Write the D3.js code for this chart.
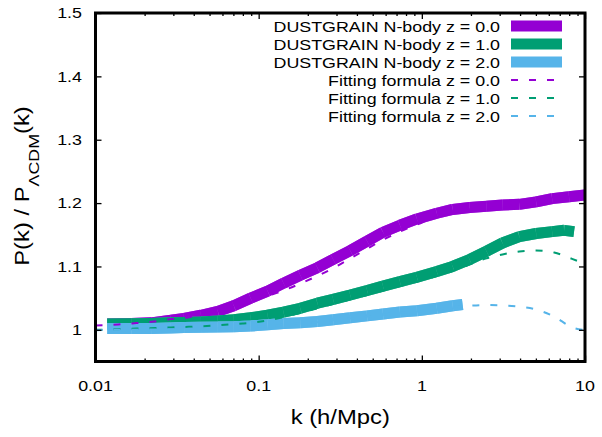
<!DOCTYPE html>
<html><head><meta charset="utf-8">
<script src="https://cdn.jsdelivr.net/npm/d3@7"></script>
<style>
body{margin:0;background:#fff}
svg{display:block}
text{font-family:"Liberation Sans",Arial,Helvetica,sans-serif;fill:#000}
</style>
</head><body>
<svg id="c" width="602" height="437"></svg>
<script>
// ---------- data ----------
const kZ0 = [0.0118,0.0166,0.0219,0.029,0.0349,0.0443,0.0562,0.0704,0.0893,0.1135,0.142,0.18,0.229,0.286,0.364,0.462,0.578,0.734,0.933,1.235,1.545,1.962,2.49,3.12,3.96,5.02,6.29,7.98,10];
const pZ0 = [1.009,1.010,1.011,1.015,1.018,1.023,1.029,1.038,1.050,1.061,1.0736,1.086,1.098,1.111,1.125,1.140,1.154,1.165,1.175,1.184,1.190,1.193,1.195,1.197,1.198,1.202,1.207,1.210,1.213];
const kZ1 = [0.0118,0.0166,0.0219,0.029,0.0349,0.0443,0.0562,0.0704,0.0893,0.1135,0.142,0.18,0.229,0.286,0.364,0.462,0.578,0.734,0.933,1.235,1.545,1.962,2.49,3.12,3.96,5.02,6.29,7.45,8.57];
const pZ1 = [1.009,1.0095,1.010,1.011,1.0115,1.0125,1.014,1.016,1.019,1.023,1.028,1.034,1.042,1.048,1.055,1.062,1.069,1.076,1.083,1.092,1.100,1.111,1.124,1.137,1.147,1.152,1.155,1.157,1.155];
const kZ2 = [0.0118,0.0166,0.0219,0.029,0.0349,0.0443,0.0562,0.0704,0.0893,0.1135,0.142,0.18,0.229,0.286,0.364,0.462,0.578,0.734,0.933,1.235,1.545,1.778];
const pZ2 = [1.002,1.002,1.002,1.003,1.0035,1.004,1.0045,1.005,1.006,1.008,1.010,1.011,1.013,1.016,1.019,1.022,1.025,1.028,1.030,1.034,1.038,1.040];

const kFit = [0.01,0.0138,0.0178,0.0229,0.0291,0.0374,0.0482,0.062,0.08,0.103,0.142,0.18,0.229,0.287,0.364,0.462,0.578,0.734,0.932,1.23,1.55,1.96,2.49,3.12,3.96,5.02,6.47,8.33,10];
const fitZ0 = [1.007,1.0084,1.0106,1.013,1.017,1.020,1.026,1.032,1.041,1.050,1.062,1.073,1.085,1.0975,1.1125,1.128,1.142,1.155,1.166,1.178,1.186,1.190,1.193,1.195,1.197,1.200,1.205,1.208,1.211];
const fitZ1 = [1.000,1.001,1.002,1.0027,1.0037,1.0047,1.006,1.008,1.010,1.013,1.020,1.027,1.034,1.041,1.048,1.055,1.062,1.069,1.076,1.085,1.093,1.103,1.113,1.119,1.1235,1.125,1.122,1.112,1.104];
const fitZ2 = [0.9995,1.000,1.000,1.0005,1.001,1.0015,1.002,1.003,1.004,1.005,1.008,1.010,1.012,1.015,1.018,1.021,1.024,1.027,1.029,1.032,1.036,1.038,1.039,1.0385,1.0365,1.032,1.021,1.004,0.9995];

const xTicks = [0.01,0.1,1,10];
const xTickLabels = ["0.01","0.1","1","10"];
const yTicks = [1,1.1,1.2,1.3,1.4,1.5];
const yTickLabels = ["1","1.1","1.2","1.3","1.4","1.5"];
const seriesColors = ["#9400d3","#009e73","#56b4e9"];
const nbodyLabels = ["DUSTGRAIN N-body z = 0.0","DUSTGRAIN N-body z = 1.0","DUSTGRAIN N-body z = 2.0"];
const fitLabels = ["Fitting formula z = 0.0","Fitting formula z = 1.0","Fitting formula z = 2.0"];

// ---------- drawing ----------
const svg = d3.select("#c");
const L = 95.5, R = 585, T = 13, B = 361.5;
const SX = 1.19;
const x = d3.scaleLog().domain([0.01,10]).range([L,R]);
const y = d3.scaleLinear().domain([0.95,1.5]).range([B,T]);

svg.append("defs").append("clipPath").attr("id","clip")
  .append("rect").attr("x",L).attr("y",T).attr("width",R-L).attr("height",B-T);

function txt(g, px, py, str, size, anchor, rot){
  return g.append("text")
    .attr("transform", `translate(${px},${py})` + (rot?` rotate(${rot})`:"") + ` scale(${SX},1)`)
    .attr("text-anchor", anchor).style("font-size", size+"px").text(str);
}

const plot = svg.append("g").attr("clip-path","url(#clip)");

// N-body bands: pale underlay path + separate segments on top
const nb = [[kZ0,pZ0],[kZ1,pZ1],[kZ2,pZ2]];
const plain = d3.line().x(d=>d[0]).y(d=>d[1]);
nb.forEach(([ks,ps],i)=>{
  const pts = ks.map((k,j)=>[x(k),y(ps[j])]);
  const g = plot.append("g");
  g.append("path").datum(pts).attr("d",plain).attr("fill","none")
    .attr("stroke",d3.interpolateRgb(seriesColors[i],"#fff")(0.3))
    .attr("stroke-width",11).attr("stroke-linejoin","bevel").attr("stroke-linecap","butt");
  g.selectAll("line").data(d3.pairs(pts)).join("line")
    .attr("x1",d=>d[0][0]).attr("y1",d=>d[0][1])
    .attr("x2",d=>d[1][0]).attr("y2",d=>d[1][1])
    .attr("stroke",seriesColors[i]).attr("stroke-width",11)
    .attr("stroke-linecap","butt");
});

// fitting formula dashed lines
const line = d3.line().x(d=>x(d[0])).y(d=>y(d[1])).curve(d3.curveMonotoneX);
[fitZ0,fitZ1,fitZ2].forEach((vals,i)=>{
  plot.append("path").datum(kFit.map((k,j)=>[k,vals[j]]))
    .attr("d",line).attr("fill","none")
    .attr("stroke",seriesColors[i]).attr("stroke-width",2)
    .attr("stroke-dasharray","7,11");
});

// ticks
const minorX = [];
[0.01,0.1,1].forEach(d=>{for(let m=2;m<=9;m++) minorX.push(d*m);});
function tickG(axis){ const g = svg.append("g").call(axis); g.select(".domain").remove(); g.selectAll("text").remove(); g.selectAll("line").attr("stroke","#000").attr("stroke-width",1.3); return g; }
tickG(d3.axisBottom(x).tickValues(xTicks).tickSizeInner(-6).tickSizeOuter(0)).attr("transform",`translate(0,${B})`);
tickG(d3.axisTop(x).tickValues(xTicks).tickSizeInner(-6).tickSizeOuter(0)).attr("transform",`translate(0,${T})`);
tickG(d3.axisBottom(x).tickValues(minorX).tickSizeInner(-3).tickSizeOuter(0)).attr("transform",`translate(0,${B})`);
tickG(d3.axisTop(x).tickValues(minorX).tickSizeInner(-3).tickSizeOuter(0)).attr("transform",`translate(0,${T})`);
tickG(d3.axisLeft(y).tickValues(yTicks).tickSizeInner(-6).tickSizeOuter(0)).attr("transform",`translate(${L},0)`);
tickG(d3.axisRight(y).tickValues(yTicks).tickSizeInner(-6).tickSizeOuter(0)).attr("transform",`translate(${R},0)`);

// frame
svg.append("rect").attr("x",L).attr("y",T).attr("width",R-L).attr("height",B-T)
  .attr("fill","none").attr("stroke","#000").attr("stroke-width",3);

// tick labels
const lab = svg.append("g");
xTicks.forEach((t,i)=> txt(lab, x(t), 391, xTickLabels[i], 15, "middle"));
yTicks.forEach((t,i)=> txt(lab, 82, y(t)+5.3, yTickLabels[i], 15, "end"));

// axis titles
txt(lab, (L+R)/2, 424, "k (h/Mpc)", 20, "middle");
const yt = lab.append("text")
  .attr("transform",`translate(28.5,186) rotate(-90) scale(${SX},1)`)
  .attr("text-anchor","middle").style("font-size","20px");
yt.append("tspan").text("P(k) / P");
yt.append("tspan").attr("dy",10).style("font-size","15px").text("ΛCDM");
yt.append("tspan").attr("dy",-10).text("(k)");

// legend
const lg = svg.append("g");
nbodyLabels.forEach((s,i)=>{
  const cy = 26 + 18*i;
  txt(lg, 500, cy+5.5, s, 15, "end");
  lg.append("line").attr("x1",511).attr("x2",562).attr("y1",cy).attr("y2",cy)
    .attr("stroke",seriesColors[i]).attr("stroke-width",11);
});
fitLabels.forEach((s,i)=>{
  const cy = 26 + 18*(i+3);
  txt(lg, 500, cy+5.5, s, 15, "end");
  lg.append("line").attr("x1",511).attr("x2",562).attr("y1",cy).attr("y2",cy)
    .attr("stroke",seriesColors[i]).attr("stroke-width",2).attr("stroke-dasharray","7,11");
});
</script>
</body></html>
